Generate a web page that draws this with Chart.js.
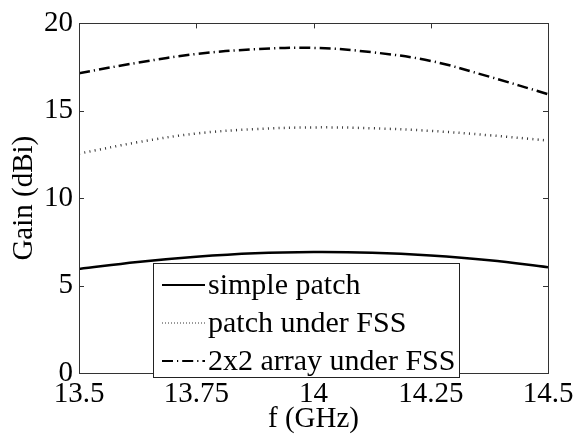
<!DOCTYPE html>
<html>
<head>
<meta charset="utf-8">
<script src="https://cdn.jsdelivr.net/npm/chart.js@4"></script>
<style>
  body { margin: 0; background: #fff; }
  #wrap { width: 574px; height: 435px; }
</style>
</head>
<body>
<div id="wrap"><canvas id="gain_chart" width="574" height="435"></canvas></div>
<script>
// values
const freqs = [13.5, 13.625, 13.75, 13.875, 14, 14.125, 14.25, 14.375, 14.5];
const simplePatch = [5.95, 6.35, 6.65, 6.85, 6.92, 6.88, 6.72, 6.45, 6.05];
const patchFSS = [12.55, 13.2, 13.7, 13.95, 14.05, 14.0, 13.85, 13.6, 13.3];
const array2x2 = [17.15, 17.75, 18.25, 18.52, 18.6, 18.35, 17.85, 16.95, 15.95];
const seriesNames = ['simple patch', 'patch under FSS', '2x2 array under FSS'];
const xTicks = [13.5, 13.75, 14, 14.25, 14.5];
const yTicks = [0, 5, 10, 15, 20];

const FONT = "'Liberation Serif'";

function toPoints(values){
    return values.map((v, i) => ({x: freqs[i], y: v}));
}

// frame, inward ticks, axis titles and boxed legend (matlab look)
const matlabStyle = {
    id: 'matlabStyle',
    afterDatasetsDraw(chart){
        const ctx = chart.ctx;
        const a = chart.chartArea;
        const xs = chart.scales.x;
        const ys = chart.scales.y;
        const tl = 5;
        ctx.save();
        ctx.strokeStyle = '#333';
        ctx.lineWidth = 1;
        ctx.setLineDash([]);
        ctx.strokeRect(Math.round(a.left) + 0.5, Math.round(a.top) + 0.5,
            Math.round(a.right - a.left), Math.round(a.bottom - a.top));
        ctx.beginPath();
        xTicks.forEach(t => {
            const px = Math.round(xs.getPixelForValue(t)) + 0.5;
            ctx.moveTo(px, a.bottom); ctx.lineTo(px, a.bottom - tl);
            ctx.moveTo(px, a.top); ctx.lineTo(px, a.top + tl);
        });
        yTicks.forEach(t => {
            const py = Math.round(ys.getPixelForValue(t)) + 0.5;
            ctx.moveTo(a.left, py); ctx.lineTo(a.left + tl, py);
            ctx.moveTo(a.right, py); ctx.lineTo(a.right - tl, py);
        });
        ctx.stroke();

        // legend box
        const lx = 153, ly = 263, lw = 306, lh = 114;
        ctx.fillStyle = '#fff';
        ctx.fillRect(lx, ly, lw, lh);
        ctx.strokeStyle = '#222';
        ctx.strokeRect(lx + 0.5, ly + 0.5, lw, lh);
        ctx.font = '30px ' + FONT;
        ctx.textBaseline = 'middle';
        ctx.textAlign = 'left';
        chart.data.datasets.forEach((ds, i) => {
            const rowY = ly + 22 + i * 38;
            ctx.beginPath();
            ctx.strokeStyle = ds.borderColor;
            ctx.lineWidth = i == 1 ? 1 : 2;
            ctx.setLineDash(i == 1 ? [1, 2] : (ds.borderDash || []));
            ctx.moveTo(162, rowY);
            ctx.lineTo(205, rowY);
            ctx.stroke();
            ctx.fillStyle = '#000';
            ctx.fillText(ds.label, 208, rowY + 1);
        });

        // axis titles
        ctx.setLineDash([]);
        ctx.font = '29px ' + FONT;
        ctx.fillStyle = '#000';
        ctx.textAlign = 'center';
        ctx.fillText('f (GHz)', (a.left + a.right) / 2, 419);
        ctx.translate(24, (a.top + a.bottom) / 2);
        ctx.rotate(-Math.PI / 2);
        ctx.fillText('Gain (dBi)', 0, 0);
        ctx.restore();
    }
};

function createGainChart(id){
    const ctx = document.getElementById(id);
    return new Chart(ctx, {
        type: 'line',
        data: {
            datasets: [{
                label: seriesNames[0],
                data: toPoints(simplePatch),
                borderColor: '#000',
                borderWidth: 2.5,
                tension: 0.4,
                pointRadius: 0,
                fill: false,
            }, {
                label: seriesNames[1],
                data: toPoints(patchFSS),
                borderColor: '#333',
                borderWidth: 2.5,
                borderDash: [1, 4.3],
                tension: 0.4,
                pointRadius: 0,
                fill: false,
            }, {
                label: seriesNames[2],
                data: toPoints(array2x2),
                borderColor: '#000',
                borderWidth: 2.5,
                borderDash: [11, 4, 1.2, 4],
                tension: 0.4,
                pointRadius: 0,
                fill: false,
            }]
        },
        options: {
            responsive: false,
            animation: false,
            layout: { padding: { left: 0, right: 0, top: 21, bottom: 0 } },
            plugins: { legend: { display: false }, tooltip: { enabled: false } },
            scales: {
                x: {
                    type: 'linear',
                    min: 13.5,
                    max: 14.5,
                    afterFit: s => { s.height = 62; s.paddingRight = 26; },
                    afterBuildTicks: s => { s.ticks = xTicks.map(v => ({value: v})); },
                    grid: { display: false, drawTicks: false },
                    border: { display: false },
                    ticks: {
                        color: '#000',
                        padding: 4,
                        maxRotation: 0,
                        autoSkip: false,
                        font: { family: FONT, size: 29 },
                        callback: v => String(v)
                    }
                },
                y: {
                    min: 0,
                    max: 20,
                    afterFit: s => { s.width = 79; },
                    afterBuildTicks: s => { s.ticks = yTicks.map(v => ({value: v})); },
                    grid: { display: false, drawTicks: false },
                    border: { display: false },
                    ticks: {
                        color: '#000',
                        padding: 6,
                        font: { family: FONT, size: 29 },
                        callback: v => String(v)
                    }
                }
            }
        },
        plugins: [matlabStyle]
    });
}

let gainChart;
window.onload = () => {
    // make sure the serif face is ready before the single draw
    document.fonts.load('28px "Liberation Serif"').then(() => {
        gainChart = createGainChart('gain_chart');
    });
};
</script>
</body>
</html>
